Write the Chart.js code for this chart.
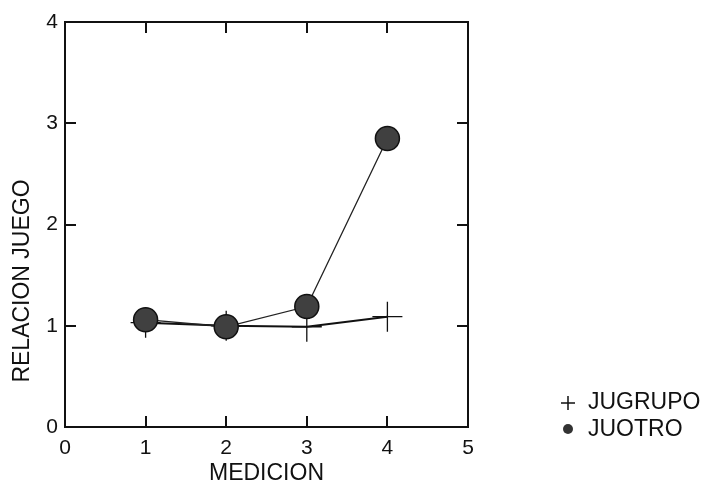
<!DOCTYPE html>
<html>
<head>
<meta charset="utf-8">
<script src="https://cdn.jsdelivr.net/npm/chart.js@4.4.1/dist/chart.umd.min.js"></script>
<style>
  html, body { margin: 0; padding: 0; background: #fff; }
  #wrap { width: 712px; height: 493px; }
</style>
</head>
<body>
<div id="wrap"><canvas id="chart" width="712" height="493"></canvas></div>
<script>
const FONT = '"Liberation Sans", Arial, sans-serif';
const INK = "#111";

// medicion (x) and the two series
const medicion = [1, 2, 3, 4];
const jugrupo = [1.03, 1.0, 0.99, 1.09];
const juotro = [1.06, 0.99, 1.19, 2.85];
const xTicks = [0, 1, 2, 3, 4, 5];
const yTicks = [0, 1, 2, 3, 4];
const yTitle = "RELACION JUEGO";
const xTitle = "MEDICION";
const legendLabels = ["JUGRUPO", "JUOTRO"];

const points = (values) => medicion.map((m, i) => ({ x: m, y: values[i] }));

// frame, inward ticks on all four sides, y title and the legend
const framePlugin = {
  id: "frame",
  afterDraw(chart) {
    const { ctx, chartArea: a, scales: { x, y } } = chart;
    ctx.save();
    ctx.strokeStyle = INK;
    ctx.lineWidth = 2;
    ctx.strokeRect(a.left, a.top, a.right - a.left, a.bottom - a.top);

    ctx.beginPath();
    xTicks.slice(1, -1).forEach((v) => {
      const px = Math.round(x.getPixelForValue(v));
      ctx.moveTo(px, a.bottom); ctx.lineTo(px, a.bottom - 11);
      ctx.moveTo(px, a.top); ctx.lineTo(px, a.top + 11);
    });
    yTicks.slice(1, -1).forEach((v) => {
      const py = Math.round(y.getPixelForValue(v));
      ctx.moveTo(a.left, py); ctx.lineTo(a.left + 11, py);
      ctx.moveTo(a.right, py); ctx.lineTo(a.right - 11, py);
    });
    ctx.stroke();

    ctx.fillStyle = INK;
    ctx.font = `23px ${FONT}`;
    ctx.textBaseline = "middle";

    ctx.save();
    ctx.translate(23, 281);
    ctx.rotate(-Math.PI / 2);
    ctx.textAlign = "center";
    ctx.fillText(yTitle, 0, 0);
    ctx.restore();

    // legend
    ctx.textAlign = "left";
    ctx.lineWidth = 1.5;
    ctx.beginPath();
    ctx.moveTo(561, 403); ctx.lineTo(575, 403);
    ctx.moveTo(568, 396); ctx.lineTo(568, 410);
    ctx.stroke();
    ctx.fillText(legendLabels[0], 588, 403);
    ctx.beginPath();
    ctx.arc(568, 429, 5, 0, Math.PI * 2);
    ctx.fillStyle = "#333";
    ctx.fill();
    ctx.fillStyle = INK;
    ctx.fillText(legendLabels[1], 588, 430);
    ctx.restore();
  },
};

new Chart(document.getElementById("chart"), {
  type: "line",
  data: {
    datasets: [
      {
        label: legendLabels[1],
        data: points(juotro),
        order: 0,
        borderColor: "#222",
        borderWidth: 1.3,
        pointRadius: 12,
        pointBackgroundColor: "#404040",
        pointBorderColor: INK,
        pointBorderWidth: 1.5,
        tension: 0,
      },
      {
        label: legendLabels[0],
        data: points(jugrupo),
        order: 1,
        borderColor: INK,
        borderWidth: 2,
        pointStyle: "cross",
        pointRadius: 15,
        pointBorderColor: INK,
        pointBorderWidth: 1.3,
        tension: 0,
      },
    ],
  },
  options: {
    responsive: false,
    devicePixelRatio: 1,
    animation: false,
    layout: { padding: { top: 22, right: 244, left: 0, bottom: 6 } },
    plugins: { legend: { display: false }, tooltip: { enabled: false } },
    scales: {
      x: {
        type: "linear",
        min: 0,
        max: 5,
        afterFit: (s) => { s.height = 60; },
        afterBuildTicks: (s) => { s.ticks = xTicks.map((v) => ({ value: v })); },
        ticks: { color: INK, font: { family: FONT, size: 21 }, padding: 9 },
        grid: { display: false, drawTicks: false },
        border: { display: false },
        title: { display: true, text: xTitle, color: INK, font: { family: FONT, size: 23 }, padding: { top: 0, bottom: 0 } },
      },
      y: {
        type: "linear",
        min: 0,
        max: 4,
        afterFit: (s) => { s.width = 65; },
        afterBuildTicks: (s) => { s.ticks = yTicks.map((v) => ({ value: v })); },
        ticks: { color: INK, font: { family: FONT, size: 21 }, padding: 7 },
        grid: { display: false, drawTicks: false },
        border: { display: false },
      },
    },
  },
  plugins: [framePlugin],
});
</script>
</body>
</html>
